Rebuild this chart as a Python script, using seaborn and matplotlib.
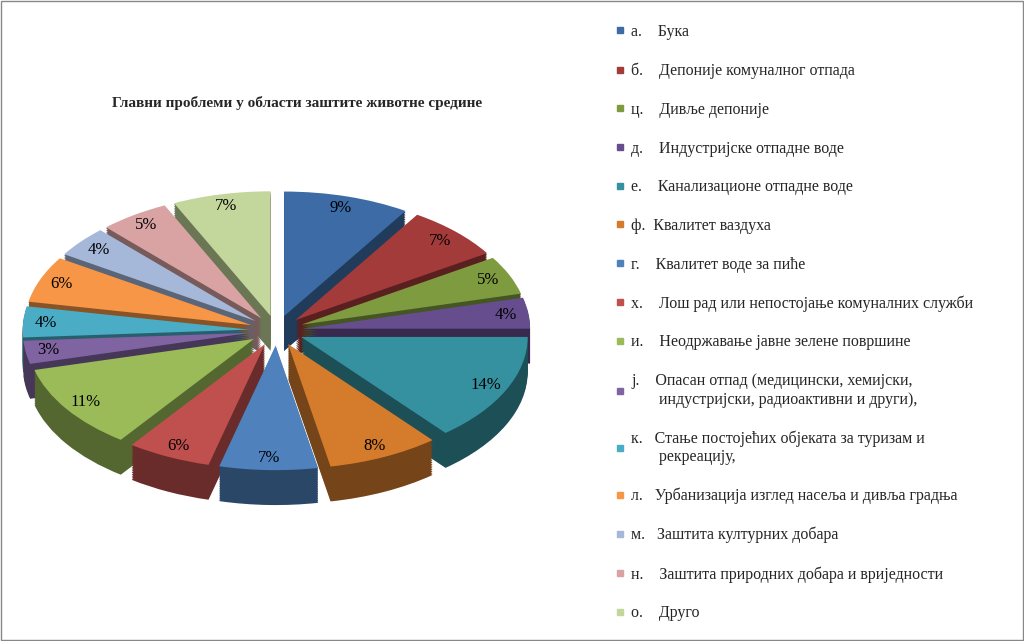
import matplotlib
matplotlib.use("Agg")
import matplotlib.pyplot as plt
import seaborn as sns
import numpy as np
from matplotlib.colors import to_rgb
from matplotlib.lines import Line2D

sns.set_style("white")
plt.rcParams["font.family"] = "Liberation Serif"

labels = [
    "а.    Бука",
    "б.    Депоније комуналног отпада",
    "ц.    Дивље депоније",
    "д.    Индустријске отпадне воде",
    "е.    Канализационе отпадне воде",
    "ф.  Квалитет ваздуха",
    "г.    Квалитет воде за пиће",
    "х.    Лош рад или непостојање комуналних служби",
    "и.    Неодржавање јавне зелене површине",
    "ј.    Опасан отпад (медицински, хемијски,\n       индустријски, радиоактивни и други),",
    "к.   Стање постојећих објеката за туризам и\n       рекреацију,",
    "л.   Урбанизација изглед насеља и дивља градња",
    "м.   Заштита културних добара",
    "н.    Заштита природних добара и вриједности",
    "о.    Друго",
]
values = [9, 7, 5, 4, 14, 8, 7, 6, 11, 3, 4, 6, 4, 5, 7]
colors = ["#3C6BA5", "#A33B3A", "#7E9B3F", "#664D8E", "#35909F", "#D47B2C",
          "#4F81BD", "#C0504D", "#9BBB59", "#8064A2", "#4BACC6", "#F79646",
          "#A5B8DA", "#D9A3A3", "#C3D69B"]

fig = plt.figure(figsize=(10.24, 6.41), dpi=100)
ax = fig.add_axes([0.0, 0.2, 0.54, 0.52])
explode = [0.12] * len(values)
flat = {"linewidth": 0, "edgecolor": "none"}

# depth layers
dark = [tuple(c * 0.55 for c in to_rgb(col)) for col in colors]
for d in np.linspace(0.28, 0.01, 20):
    ax.pie(values, colors=dark, explode=explode, startangle=90, counterclock=False,
           center=(0, -d), radius=1.0, wedgeprops=flat)
ax.pie(values, colors=colors, explode=explode, startangle=90, counterclock=False,
       radius=1.0, autopct="%1.0f%%", pctdistance=0.9, wedgeprops=flat,
       textprops={"fontsize": 12, "color": "black"})
ax.set_aspect(0.55)
ax.set_xlim(-1.22, 1.22)
ax.set_ylim(-1.45, 1.2)
ax.axis("off")

fig.text(0.29, 0.84, "Главни проблеми у области заштите животне средине",
         ha="center", va="center", fontsize=11, fontweight="bold")

handles = [Line2D([], [], marker="s", linestyle="", markersize=5,
                  markerfacecolor=c, markeredgecolor=c) for c in colors]
fig.legend(handles, labels, loc="upper left", bbox_to_anchor=(0.585, 0.985),
           frameon=False, fontsize=11.5, handletextpad=0.3, labelspacing=1.42,
           handlelength=0.8)

fig.patches.append(plt.Rectangle((0.001, 0.001), 0.998, 0.998, transform=fig.transFigure,
                                 fill=False, edgecolor="#888888", linewidth=1))
fig.savefig("out.png", dpi=100)
